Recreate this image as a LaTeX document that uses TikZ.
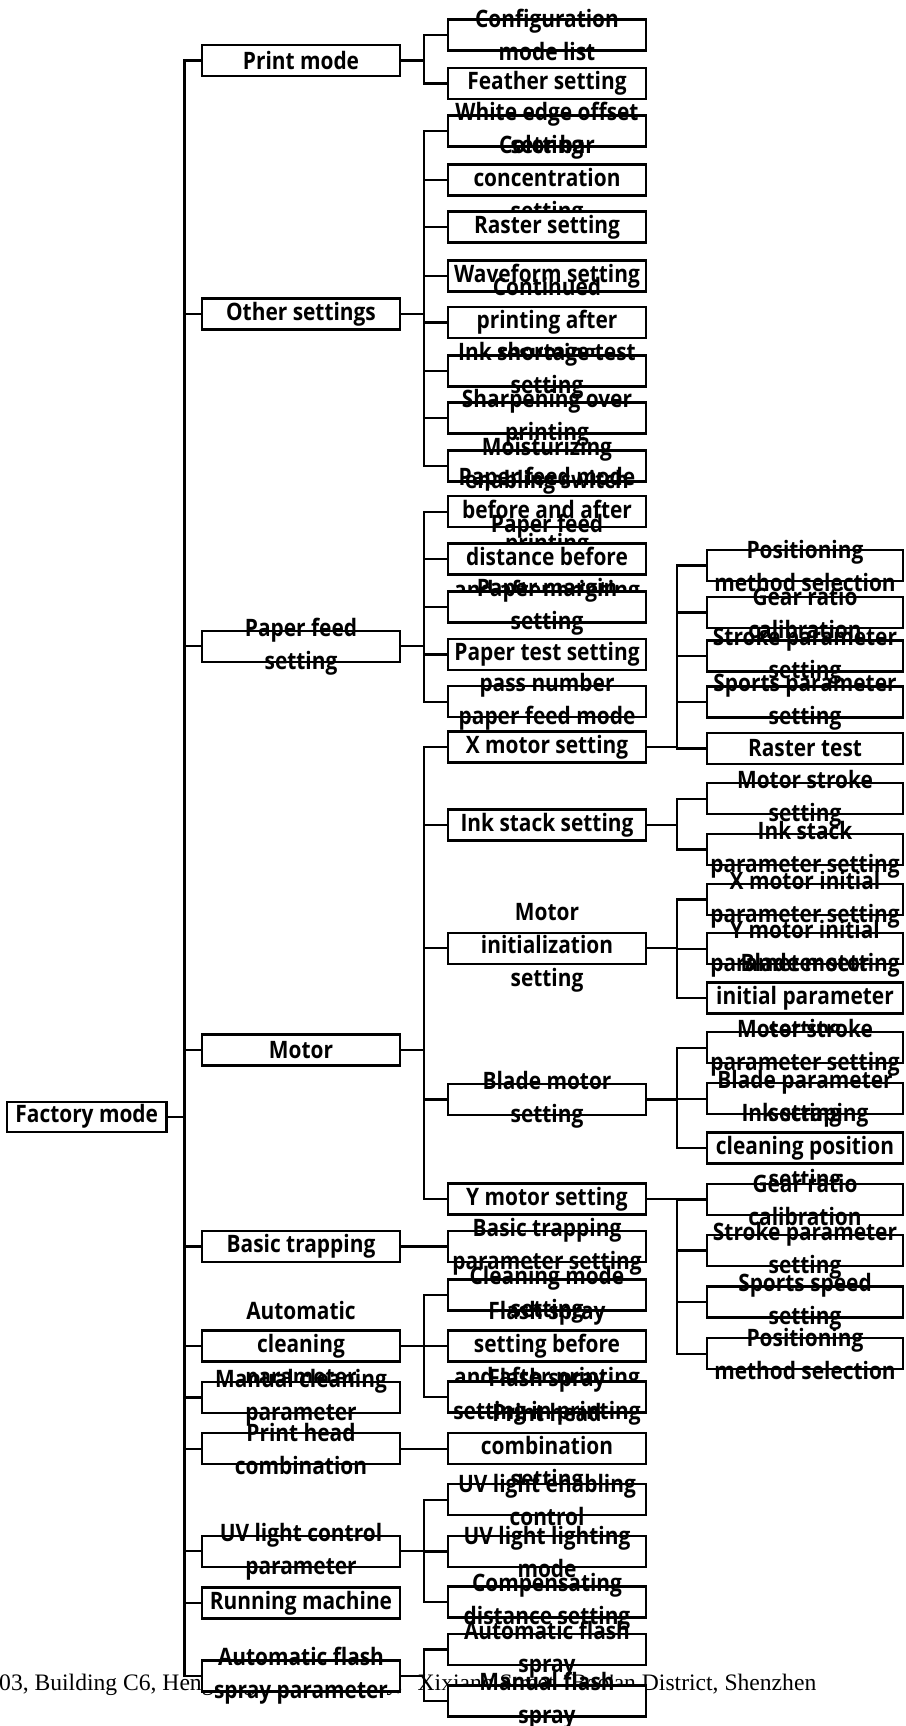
\documentclass[tikz,border=0pt]{standalone}
\usepackage{fontspec}
\newfontfamily\boxfont{Open Sans}[FakeStretch=0.87]
\newfontfamily\footfont{Liberation Serif}
\begin{document}
\begin{tikzpicture}[x=1pt,y=-1pt,
  box/.style={draw,line width=2.3pt,fill=white,inner sep=0pt,outer sep=0pt,minimum height=31pt,minimum width=198pt},
  boxthree/.style={box,minimum width=196pt},
  txt/.style={inner sep=0pt,align=center,font=\boxfont\bfseries\fontsize{24}{33}\selectfont},
  conn/.style={line width=2.2pt}]
\fill[white] (0,0) rectangle (905,1726);
\useasboundingbox (0,0) rectangle (905,1726);
% footer
\node[anchor=west,inner sep=0pt,font=\footfont\fontsize{23.6}{28}\selectfont] (footer) at (-1,1685) {03, Building C6, Hengfeng Industrial City,\hspace{9pt} Xixiang Street,\hspace{5pt} Bao'an District, Shenzhen};
% ---------- root
\node[box,minimum width=159.5pt,minimum height=30pt] (fm) at (86.75,1116.7) {};
\node[txt] at (fm) {Factory mode};
% ---------- level 1 positions
\foreach \y/\n in {60.5/pm,314/os,646.3/pf,1050/mo,1246.5/bt,1346/ac,1397.5/mc,1448.6/ph,1551.3/uv,1603/rm,1676/af}{
  \coordinate (c\n) at (301,\y);
}
% level 1 trunk connectors
\foreach \n in {pm,os,pf,mo,bt,ac,mc,ph,uv,rm,af}{
  \draw[conn] (fm.east) -- ++(18,0) |- ([xshift=-99pt]c\n);
}
% level 2 connectors
\foreach \p/\y in {pm/35,pm/83.5,
  os/131,os/180,os/227,os/276,os/322.5,os/371,os/418,os/466,
  pf/511.7,pf/559,pf/607,pf/654.5,pf/701.7,
  mo/747,mo/825,mo/948.3,mo/1099.5,mo/1199,
  bt/1246.5,ac/1295,ac/1346,ac/1397,ph/1448.6,
  uv/1499.7,uv/1551.5,uv/1602,af/1649.5,af/1701}{
  \draw[conn] ([xshift=99pt]c\p) -- ++(23.6,0) |- (448,\y);
}
% level 3 connectors
\foreach \p/\y in {747/565.5,747/612.5,747/656,747/702,747/748.5,
  825/798.7,825/849.5,
  948.3/899.5,948.3/948.7,948.3/998,
  1099.5/1047.7,1099.5/1098.7,1099.5/1148,
  1199/1199.5,1199/1250.5,1199/1302,1199/1353.8}{
  \draw[conn] (646,\p) -- ++(31,0) |- (707,\y);
}
% ---------- level 1 boxes
\node[box] (pm) at (cpm) {}; \node[txt] at (pm) {Print mode};
\node[box] (os) at (cos) {}; \node[txt] at (os) {Other settings};
\node[box] (pf) at (cpf) {}; \node[txt] at (pf) {Paper feed\\setting};
\node[box] (mo) at (cmo) {}; \node[txt] at (mo) {Motor};
\node[box] (bt) at (cbt) {}; \node[txt] at (bt) {Basic trapping};
\node[box] (ac) at (cac) {}; \node[txt] at (ac) {Automatic\\cleaning\\parameter};
\node[box] (mc) at (cmc) {}; \node[txt] at (mc) {Manual cleaning\\parameter};
\node[box] (ph) at (cph) {}; \node[txt] at (ph) {Print head\\combination};
\node[box] (uv) at (cuv) {}; \node[txt] at (uv) {UV light control\\parameter};
\node[box] (rm) at (crm) {}; \node[txt] at (rm) {Running machine};
\node[box] (af) at (caf) {}; \node[txt] at (af) {Automatic flash\\spray parameter};
% ---------- level 2 boxes
\foreach \y/\t [count=\i] in {35/{Configuration\\mode list},83.5/{Feather setting},
  131/{White edge offset\\setting},180/{Color bar\\concentration\\setting},227/{Raster setting},
  276/{Waveform setting},322.5/{Continued\\printing after\\resuming},371/{Ink shortage test\\setting},
  418/{Sharpening over\\printing},466/{Moisturizing\\enabling switch},
  511.7/{Paper feed mode\\before and after\\printing},559/{Paper feed\\distance before\\and after printing},
  607/{Paper margin\\setting},654.5/{Paper test setting},701.7/{pass number\\paper feed mode},
  747/{X motor setting},825/{Ink stack setting},948.3/{Motor\\initialization\\setting},
  1099.5/{Blade motor\\setting},1199/{Y motor setting},
  1246.5/{Basic trapping\\parameter setting},1295/{Cleaning mode\\setting},
  1346/{Flash spray\\setting before\\and after printing},1397/{Flash spray\\setting in printing},
  1448.6/{Print head\\combination\\setting},
  1499.7/{UV light enabling\\control},1551.5/{UV light lighting\\mode},1602/{Compensating\\distance setting},
  1649.5/{Automatic flash\\spray},1701/{Manual flash\\spray}}{
  \node[box] (b\i) at (547,\y) {};
  \node[txt] at (b\i) {\t};
}
% ---------- level 3 boxes
\foreach \y/\t [count=\i] in {565.5/{Positioning\\method selection},612.5/{Gear ratio\\calibration},
  656/{Stroke parameter\\setting},702/{Sports parameter\\setting},748.5/{Raster test},
  798.7/{Motor stroke\\setting},849.5/{Ink stack\\parameter setting},
  899.5/{X motor initial\\parameter setting},948.7/{Y motor initial\\parameter setting},
  998/{Blade motor\\initial parameter\\setting},
  1047.7/{Motor stroke\\parameter setting},1098.7/{Blade parameter\\setting},
  1148/{Ink scraping\\cleaning position\\setting},
  1199.5/{Gear ratio\\calibration},1250.5/{Stroke parameter\\setting},
  1302/{Sports speed\\setting},1353.8/{Positioning\\method selection}}{
  \node[boxthree] (t\i) at (805,\y) {};
  \node[txt] at (t\i) {\t};
}
\end{tikzpicture}
\end{document}
